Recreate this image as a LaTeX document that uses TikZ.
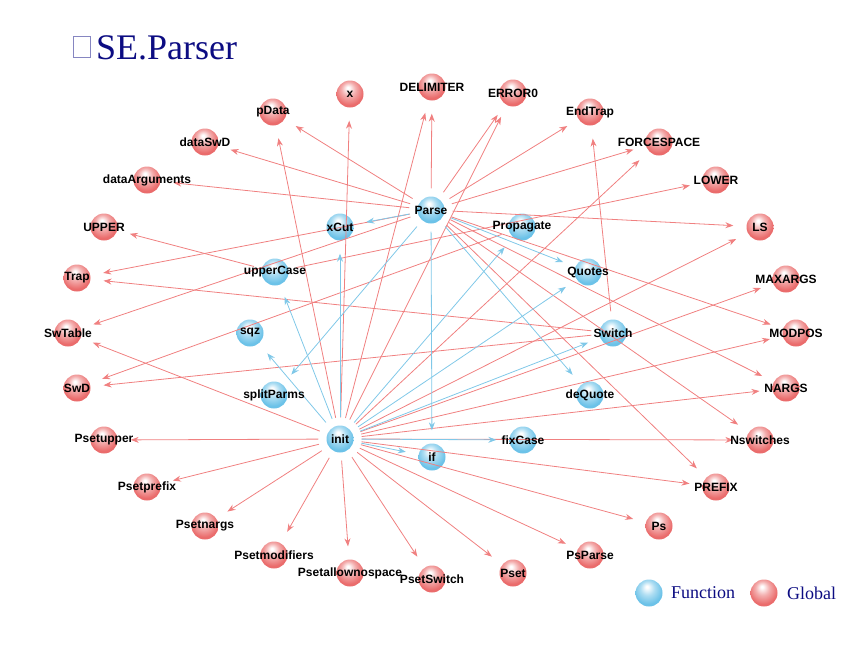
\documentclass[tikz,border=0pt]{standalone}
\usepackage{fontspec}
\setsansfont{Liberation Sans}
\newfontfamily\titlefont{Liberation Serif}
\usetikzlibrary{arrows.meta, positioning}
\definecolor{color1}{RGB}{108,194,232}
\definecolor{color2}{RGB}{234,108,108}
\definecolor{color3}{RGB}{12,12,130}
\definecolor{color4}{RGB}{240,128,128}
\definecolor{color5}{RGB}{128,200,232}
\pgfdeclareradialshading{fball}{\pgfpoint{-4bp}{12bp}}{color(0bp)=(white); color(2bp)=(white); color(13bp)=(color1!55!white); color(26bp)=(color1); color(50bp)=(color1)}
\pgfdeclareradialshading{gball}{\pgfpoint{-4bp}{12bp}}{color(0bp)=(white); color(2bp)=(white); color(13bp)=(color2!55!white); color(26bp)=(color2); color(50bp)=(color2)}
\tikzset{
  fnode/.style={circle, minimum size=27pt, inner sep=0pt, shading=fball},
  gnode/.style={circle, minimum size=27pt, inner sep=0pt, shading=gball},
  lbl/.style={inner sep=0pt, font=\sffamily\bfseries\fontsize{12}{13}\selectfont},
  keytext/.style={anchor=west, inner sep=0pt, text=color3, font=\titlefont\fontsize{18}{20}\selectfont},
  fcall/.style={draw=color5, line width=0.8pt, -{Stealth[length=8pt,width=6pt]}, shorten <=8pt, shorten >=13pt},
  guse/.style={draw=color4, line width=0.8pt, -{Stealth[length=8pt,width=6pt]}, shorten <=8pt, shorten >=13pt}
}
\begin{document}
\begin{tikzpicture}[x=1pt, y=-1pt]
    \useasboundingbox (0,0) rectangle (864,648);
    \draw[color3!50!white, line width=0.6pt] (73,36) rectangle (90,57);
    \node[anchor=base west, inner sep=0pt, text=color3, font=\titlefont\fontsize{36}{40}\selectfont] (title) at (96,59) {SE.Parser};

    \foreach \n/\x/\y in {Parse/431/210, xCut/340/227, Propagate/522/227, upperCase/275/272, Quotes/588/272, sqz/250/333,
        Switch/613/333, splitParms/274/395, deQuote/590/395, init/340/439, if/432/457, fixCase/523/440}
        \node[fnode] (\n) at (\x,\y) {};
    \foreach \n/\x/\y in {x/350/94, DELIMITER/432/87, ERROR0/513/93, EndTrap/590/112, FORCESPACE/659/142, LOWER/716/180,
        LS/760/227, MAXARGS/786/279, MODPOS/796/333, NARGS/786/388, Nswitches/760/440, PREFIX/716/487, Ps/659/526,
        PsParse/590/555, Pset/513/573, PsetSwitch/432/579, Psetallownospace/350/573, Psetmodifiers/274/555,
        Psetnargs/205/526, Psetprefix/147/487, Psetupper/104/440, SwD/77/388, SwTable/68/333, Trap/77/278,
        UPPER/104/227, dataArguments/147/180, dataSwD/205/142, pData/273/112}
        \node[gnode] (\n) at (\x,\y) {};

    \foreach \t in {pData, dataSwD, dataArguments, DELIMITER, ERROR0, EndTrap, FORCESPACE, LS, MODPOS, NARGS,
        Nswitches, PREFIX, Trap, SwTable}
        \draw[guse] (Parse) -- (\t);
    \foreach \t in {x, pData, DELIMITER, ERROR0, FORCESPACE, LS, MAXARGS, MODPOS, NARGS, Nswitches, PREFIX, Ps,
        PsParse, Pset, PsetSwitch, Psetallownospace, Psetmodifiers, Psetnargs, Psetprefix, Psetupper, SwTable}
        \draw[guse] (init) -- (\t);
    \foreach \t in {EndTrap, Trap, SwD}
        \draw[guse] (Switch) -- (\t);
    \draw[guse] (upperCase) -- (UPPER);
    \draw[guse] (upperCase) -- (LOWER);
    \draw[guse] (Propagate) -- (SwD);

    \foreach \t in {xCut, Quotes, if, deQuote, splitParms}
        \draw[fcall] (Parse) -- (\t);
    \foreach \t in {xCut, upperCase, sqz, if, fixCase, Switch, Quotes, Propagate}
        \draw[fcall] (init) -- (\t);

    \foreach \n in {Parse, xCut, Propagate, upperCase, Quotes, sqz, Switch, splitParms, deQuote, init, if, fixCase,
        x, DELIMITER, ERROR0, EndTrap, FORCESPACE, LOWER, LS, MAXARGS, MODPOS, NARGS, Nswitches, PREFIX, Ps,
        PsParse, Pset, PsetSwitch, Psetallownospace, Psetmodifiers, Psetnargs, Psetprefix, Psetupper, SwD,
        SwTable, Trap, UPPER, dataArguments, dataSwD, pData}
        \node[lbl] at (\n) {\n};

    \node[fnode] (keyF) at (649,593) {};
    \node[keytext] (keyFtext) at (671,593) {Function};
    \node[gnode] (keyG) at (764,593) {};
    \node[keytext] (keyGtext) at (787,593) {Global};
\end{tikzpicture}
\end{document}
